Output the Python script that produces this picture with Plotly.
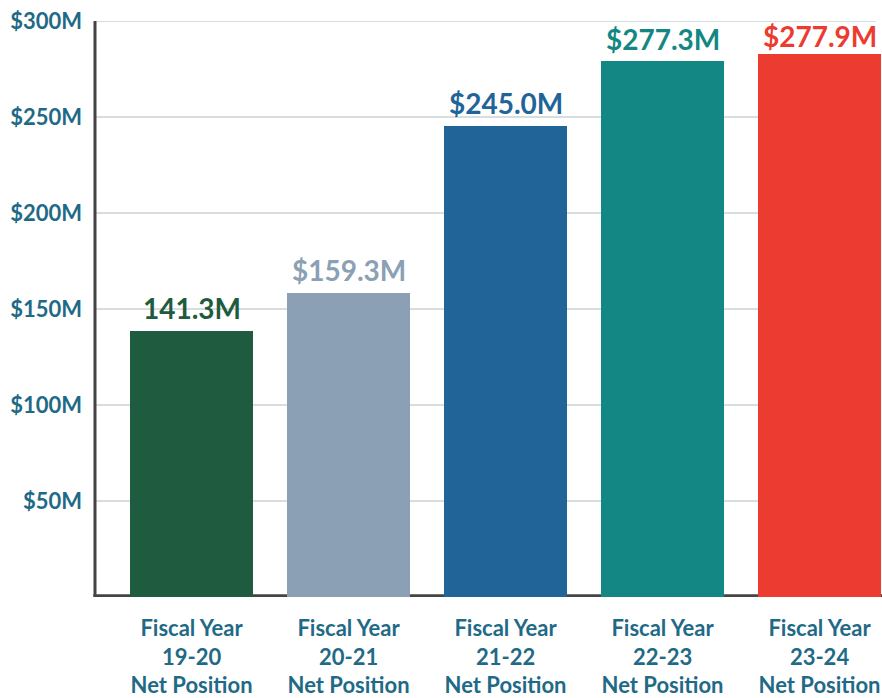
import plotly.graph_objects as go

# ---- data ----
categories = ["FY19-20", "FY20-21", "FY21-22", "FY22-23", "FY23-24"]
tick_labels = [
    "Fiscal Year<br>19-20<br>Net Position",
    "Fiscal Year<br>20-21<br>Net Position",
    "Fiscal Year<br>21-22<br>Net Position",
    "Fiscal Year<br>22-23<br>Net Position",
    "Fiscal Year<br>23-24<br>Net Position",
]
bar_heights = [138.4, 158.3, 245.2, 279.0, 282.8]          # $M, as drawn
value_labels = ["141.3M", "$159.3M", "$245.0M", "$277.3M", "$277.9M"]
y_tickvals = [50, 100, 150, 200, 250, 300]
y_ticktext = ["$50M", "$100M", "$150M", "$200M", "$250M", "$300M"]

# ---- style ----
bar_colors = ["#1f5b3e", "#8b9fb5", "#216497", "#138783", "#ec3b31"]
label_shift = [23, 23, 23, 22, 18]
axis_text = "#1f6a86"
FONT = "Lato, 'Open Sans', 'DejaVu Sans', sans-serif"

xpos = list(range(len(categories)))

fig = go.Figure()
fig.add_trace(go.Bar(
    x=xpos, y=bar_heights, width=0.783,
    marker=dict(color=bar_colors, line=dict(width=0)),
    hoverinfo="skip",
))

for i, (h, t) in enumerate(zip(bar_heights, value_labels)):
    fig.add_annotation(
        x=i, y=h, text=f"<b>{t}</b>", showarrow=False,
        xanchor="center", yanchor="middle", yshift=label_shift[i],
        font=dict(family=FONT, size=28, color=bar_colors[i]),
    )

# gridlines
for v in y_tickvals:
    fig.add_shape(type="line", xref="paper", yref="y",
                  x0=0, x1=0.9924, y0=v, y1=v,
                  line=dict(color="#cbd3d3", width=1.5), layer="below")

# axis lines
fig.add_shape(type="line", xref="paper", yref="paper", x0=0, x1=0, y0=0, y1=1,
              line=dict(color="#444444", width=3), layer="above")
fig.add_shape(type="line", xref="paper", yref="y", x0=-0.002, x1=1, y0=0.7, y1=0.7,
              line=dict(color="#444444", width=3), layer="below")

fig.update_layout(
    width=882, height=698,
    margin=dict(l=95, r=0, t=21, b=101, pad=0),
    paper_bgcolor="white", plot_bgcolor="white",
    showlegend=False,
    bargap=0,
    font=dict(family=FONT, color=axis_text),
)
fig.update_xaxes(
    range=[-0.615, 4.398],
    tickvals=xpos, ticktext=[f"<b>{t}</b>" for t in tick_labels],
    tickfont=dict(family=FONT, size=22, color=axis_text),
    showgrid=False, zeroline=False, showline=False,
    ticks="", ticklabelstandoff=16,
)
fig.update_yaxes(
    range=[0, 300],
    tickvals=y_tickvals, ticktext=[f"<b>{t}</b>" for t in y_ticktext],
    tickfont=dict(family=FONT, size=22, color=axis_text),
    showgrid=False, zeroline=False, showline=False,
    ticks="", ticklabelstandoff=12, ticklabeloverflow="allow",
)

fig.write_html(
    "out.html",
    config={"displayModeBar": False, "staticPlot": True},
    post_script="document.body.style.margin='0';document.body.style.overflow='hidden';",
)
